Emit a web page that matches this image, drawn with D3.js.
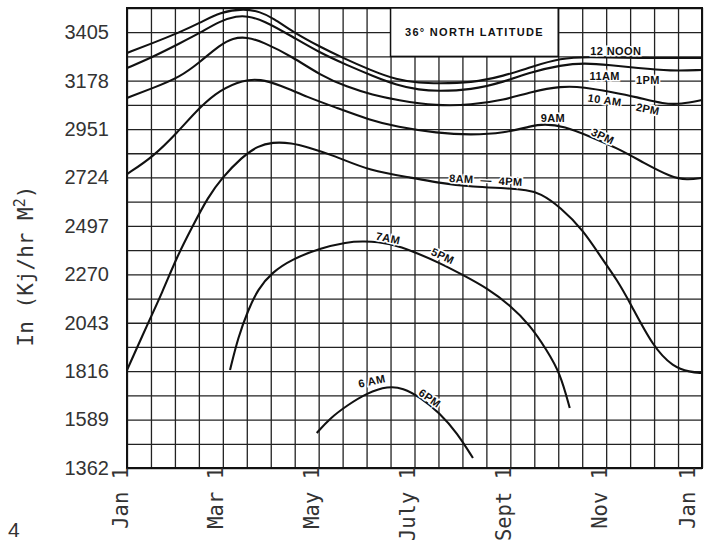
<html>
<head>
<meta charset="utf-8">
<style>
body { margin: 0; background: #fff; }
.grid line { stroke: #222; stroke-width: 1.3; }
.grid .domain { display: none; }
.frame { fill: none; stroke: #111; stroke-width: 2; }
.curve { fill: none; stroke: #111; stroke-width: 2.1; }
.lbl {
  font: bold 11px "Liberation Sans", sans-serif;
  letter-spacing: 0.4px;
  fill: #111;
  stroke: #fff;
  stroke-width: 3;
  paint-order: stroke;
}
</style>
</head>
<body>
<svg width="704" height="543"></svg>
<script src="https://d3js.org/d3.v7.min.js"></script>
<script>

// x is in months from Jan 1 (0) to the next Jan 1 (12)
var monthTicks = [0, 2, 4, 6, 8, 10, 12];
var monthNames = ["Jan", "Mar", "May", "July", "Sept", "Nov", "Jan"];
var yTicks = [1362, 1589, 1816, 2043, 2270, 2497, 2724, 2951, 3178, 3405];

// In (kJ/hr m2), [month, value]
var noon = [[0,3308],[0.54,3354],[1.11,3406],[1.52,3448],[1.94,3500],[2.46,3516],[2.78,3500],[3.05,3472],
  [3.46,3406],[4.03,3336],[4.51,3284],[5.07,3228],[5.63,3181],[6.11,3167],[6.47,3165],[7.18,3167],
  [7.87,3200],[8.43,3242],[9.06,3284],[9.6,3289],[10.64,3284],[12,3284]];
var elevenOne = [[0,3237],[0.54,3289],[1.11,3354],[1.52,3401],[1.94,3458],[2.3,3481],[2.5,3481],[2.84,3462],
  [3.46,3383],[4.03,3308],[4.59,3251],[5.13,3200],[5.63,3157],[6.11,3134],[6.47,3129],[7.18,3134],
  [7.87,3172],[8.43,3218],[9.06,3251],[9.54,3261],[10.1,3251],[10.64,3237],[11.35,3223],[12,3228]];
var tenTwo = [[0,3097],[0.54,3143],[1.11,3195],[1.52,3265],[1.94,3345],[2.21,3378],[2.5,3383],[2.84,3359],
  [3.46,3289],[4.03,3204],[4.59,3148],[5.13,3111],[5.63,3087],[6.47,3059],[7.18,3064],[7.87,3087],
  [8.43,3125],[9.06,3153],[9.54,3148],[10.1,3125],[10.64,3101],[11.21,3068],[11.56,3068],[12,3087]];
var nineThree = [[0,2740],[0.54,2820],[1.04,2932],[1.52,3054],[1.94,3134],[2.42,3181],[2.78,3186],[3.19,3157],
  [3.76,3101],[4.38,3050],[5.07,2993],[5.63,2961],[6.47,2932],[7.18,2923],[7.87,2932],[8.43,2965],
  [8.7,2975],[9.12,2965],[9.68,2914],[10.23,2862],[10.79,2792],[11.35,2726],[11.69,2712],[12,2722]];
var eightFour = [[0,1821],[0.44,2042],[0.73,2182],[1.04,2351],[1.36,2492],[1.69,2632],[1.98,2722],[2.4,2820],
  [2.73,2872],[3.03,2890],[3.44,2886],[3.76,2867],[4.3,2829],[5.07,2754],[5.97,2722],[6.53,2698],
  [7.22,2679],[7.93,2674],[8.35,2665],[8.62,2651],[9.04,2586],[9.52,2478],[9.93,2337],[10.23,2243],
  [10.5,2136],[10.98,1929],[11.4,1835],[11.75,1812],[12,1807]];
var sevenFive = [[2.15,1821],[2.32,1976],[2.53,2103],[2.73,2200],[3.03,2280],[3.44,2340],[4.03,2393],[4.59,2421],
  [4.92,2426],[5.49,2417],[6.05,2370],[6.53,2323],[7.01,2267],[7.51,2206],[7.99,2126],[8.41,2032],
  [8.76,1915],[9.04,1807],[9.24,1643]];
var sixSix = [[3.96,1526],[4.24,1596],[4.59,1655],[5.01,1714],[5.45,1746],[5.76,1737],[6.11,1695],[6.53,1620],
  [6.89,1526],[7.22,1409]];

// curve labels: [month, value, text, angle]
var curveLabels = [
  [10.2, 3317, "12 NOON", 0],
  [9.97, 3200, "11AM", 0],
  [10.87, 3181, "1PM", 0],
  [9.97, 3087, "10 AM", 8],
  [10.87, 3045, "2PM", 12],
  [8.89, 3003, "9AM", 0],
  [9.93, 2918, "3PM", 25],
  [7.49, 2712, "8AM \u00a0\u2014\u00a0 4PM", 3],
  [5.45, 2440, "7AM", 12],
  [6.59, 2356, "5PM", 25],
  [5.11, 1770, "6 AM", -12],
  [6.32, 1690, "6PM", 35]
];

var svg = d3.select("svg"),
    mLeft = 127, mRight = 702, mTop = 8, mBottom = 468;

var x = d3.scaleLinear().domain([0, 12]).range([mLeft, mRight]);
var y = d3.scaleLinear().domain([1362, 3518.5]).range([mBottom, mTop]);

// grid: half month columns, half tick rows
svg.append("g")
    .attr("class", "grid")
    .attr("transform", "translate(0," + mBottom + ")")
    .call(d3.axisBottom(x).tickValues(d3.range(0, 12.01, 0.5)).tickSize(-(mBottom - mTop)).tickFormat(""));

svg.append("g")
    .attr("class", "grid")
    .attr("transform", "translate(" + mLeft + ",0)")
    .call(d3.axisLeft(y).tickValues(d3.range(1362, 3519, 113.5)).tickSize(-(mRight - mLeft)).tickFormat(""));

svg.append("rect")
    .attr("class", "frame")
    .attr("x", mLeft).attr("y", mTop)
    .attr("width", mRight - mLeft).attr("height", mBottom - mTop);

// title box
svg.append("rect")
    .attr("x", x(5.5)).attr("y", y(3518.5))
    .attr("width", x(9) - x(5.5)).attr("height", y(3291.5) - y(3518.5))
    .attr("fill", "#fff").attr("stroke", "#111").attr("stroke-width", 1.5);

svg.append("text")
    .attr("x", (x(5.5) + x(9)) / 2)
    .attr("y", (y(3518.5) + y(3291.5)) / 2)
    .attr("dy", "0.36em")
    .attr("text-anchor", "middle")
    .style("font", "bold 11px 'Liberation Sans', sans-serif")
    .style("letter-spacing", "1.3px")
    .attr("fill", "#111")
    .text("36\u00b0 NORTH LATITUDE");

// curves
var line = d3.line()
    .x(function(d) { return x(d[0]); })
    .y(function(d) { return y(d[1]); })
    .curve(d3.curveBasis);

var series = [noon, elevenOne, tenTwo, nineThree, eightFour, sevenFive, sixSix];
svg.selectAll(".curve")
    .data(series)
  .enter().append("path")
    .attr("class", "curve")
    .attr("d", line);

svg.selectAll(".lbl")
    .data(curveLabels)
  .enter().append("text")
    .attr("class", "lbl")
    .attr("text-anchor", "middle")
    .attr("dy", "0.36em")
    .attr("transform", function(d) {
      return "translate(" + x(d[0]) + "," + y(d[1]) + ") rotate(" + d[3] + ")";
    })
    .text(function(d) { return d[2]; });

// axes
var gy = svg.append("g")
    .attr("transform", "translate(" + mLeft + ",0)")
    .call(d3.axisLeft(y).tickValues(yTicks).tickSize(0).tickPadding(18).tickFormat(d3.format("d")));
gy.select(".domain").remove();
gy.selectAll("text")
    .style("font", "20px 'Liberation Sans', sans-serif")
    .attr("fill", "#333");

var gx = svg.append("g")
    .attr("transform", "translate(0," + mBottom + ")")
    .call(d3.axisBottom(x).tickValues(monthTicks).tickSize(0)
      .tickFormat(function(d, i) { return monthNames[i] + " 1"; }));
gx.select(".domain").remove();
gx.selectAll("text")
    .attr("transform", "rotate(-90)")
    .attr("text-anchor", "end")
    .attr("x", 1)
    .attr("y", function(d, i) { return i === monthTicks.length - 1 ? -8 : 0; })
    .attr("dy", 0)
    .style("font", "20.5px 'DejaVu Sans Mono', monospace")
    .attr("fill", "#333");

// y title
var yt = svg.append("text")
    .attr("transform", "translate(33," + ((mTop + mBottom) / 2 + 28) + ") rotate(-90)")
    .attr("text-anchor", "middle")
    .style("font", "21px 'DejaVu Sans Mono', monospace")
    .attr("fill", "#333");
yt.append("tspan").text("In (Kj/hr M");
yt.append("tspan").attr("dy", -8).style("font-size", "15px").text("2");
yt.append("tspan").attr("dy", 8).text(")");

// page number
svg.append("text")
    .attr("x", 8).attr("y", 537)
    .style("font", "21px 'Liberation Sans', sans-serif")
    .attr("fill", "#333")
    .text("4");

</script>
</body>
</html>
